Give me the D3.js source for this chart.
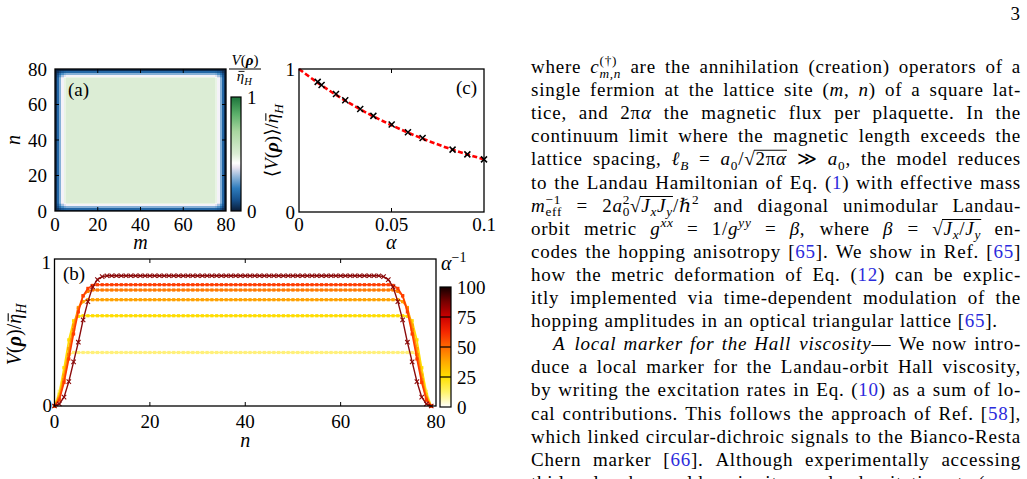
<!DOCTYPE html>
<html><head><meta charset="utf-8">
<script src="https://cdn.jsdelivr.net/npm/d3@7"></script>
<style>
html,body{margin:0;padding:0;background:#fff;}
svg text{font-family:"Liberation Serif","DejaVu Serif",serif;}
</style></head><body>
<svg id="fig" width="1027" height="479"></svg>
<script>
// ================= DATA =================
// Panel (a): local marker map on an 80x80 lattice
const heatTicks = [0, 20, 40, 60, 80];
const heatSites = 80;
const heatEdgeProfile = [0.03, 0.15, 0.29, 0.40, 0.47]; // value vs. distance from edge
const heatInterior = 0.5;
const heatCbarTicks = [0, 1];
const heatColorStops = [0, 0.1, 0.2, 0.3, 0.38, 0.42, 0.5, 0.7, 0.85, 1];
const heatColors = ["#0a1d38", "#17528e", "#2e7cbd", "#90b6da", "#e8e4f1", "#ffffff", "#dcedd5", "#a8d69f", "#5bb06a", "#1c733a"];

// Panel (b): cuts along n for several alpha^-1
const bInvAlpha = [10, 20, 30, 40, 50, 100];
const bPlateau = [0.364, 0.614, 0.723, 0.789, 0.825, 0.886];
const bEdge = [
  [0, 0.10, 0.26, 0.35],
  [0, 0.08, 0.26, 0.45, 0.58, 0.61],
  [0, 0.06, 0.21, 0.39, 0.55, 0.67, 0.71],
  [0, 0.05, 0.18, 0.35, 0.52, 0.66, 0.75, 0.78],
  [0, 0.04, 0.16, 0.32, 0.49, 0.64, 0.75, 0.80, 0.82],
  [0, 0.014, 0.06, 0.166, 0.30, 0.434, 0.586, 0.71, 0.81, 0.86, 0.88]
];
const bSites = 80;
const bColors = ["#fff07a", "#ffdd00", "#ffa200", "#ff7a00", "#ff3c00", "#8b0a0a"];
const bXTicks = [0, 20, 40, 60, 80];
const bYTicks = [0, 1];
const bCbarTicks = [0, 25, 50, 75, 100];
const bCbarStops = [0, 12.5, 25, 37.5, 50, 62.5, 75, 87.5, 100];
const bCbarColors = ["#ffffff", "#fff36a", "#ffe000", "#ffaa00", "#ff6a00", "#f52800", "#cc0000", "#7a0000", "#120000"];

// Panel (c): average marker vs alpha
const cAlpha = [0.0101, 0.0122, 0.02, 0.025, 0.0331, 0.0402, 0.0501, 0.0589, 0.0668, 0.083, 0.091, 0.1];
const cMarker = [0.91, 0.888, 0.825, 0.782, 0.72, 0.672, 0.612, 0.558, 0.518, 0.436, 0.403, 0.368];
const cFitAlpha = [0, 0.01, 0.02, 0.03, 0.04, 0.05, 0.06, 0.07, 0.08, 0.09, 0.1];
const cFitValue = [1, 0.905, 0.819, 0.741, 0.670, 0.607, 0.549, 0.497, 0.449, 0.407, 0.368];
const cXTicks = [0, 0.05, 0.1];
const cXTickLabels = ["0", "0.05", "0.1"];
const cYTicks = [0, 1];

// Body text (right column)
const bodyLines = [
  "where $c$^{(†)}|_{$m,n$} are the annihilation (creation) operators of a",
  "single fermion at the lattice site ($m$, $n$) of a square lat-",
  "tice, and 2π$α$ the magnetic flux per plaquette.  In the",
  "continuum limit where the magnetic length exceeds the",
  "lattice spacing, $ℓ$_{$B$} = $a$_{0}/√&{2π$α$} ≫ $a$_{0}, the model reduces",
  "to the Landau Hamiltonian of Eq. (#1#) with effective mass",
  "$m$^{−1}|_{eff} = 2$a$^{2}|_{0}√&{$J$_{$x$}$J$_{$y$}}/ℏ^{2} and diagonal unimodular Landau-",
  "orbit metric $g$^{$xx$} = 1/$g$^{$yy$} = $β$, where $β$ = √&{$J$_{$x$}/$J$_{$y$}} en-",
  "codes the hopping anisotropy [#65#]. We show in Ref. [#65#]",
  "how the metric deformation of Eq. (#12#) can be explic-",
  "itly implemented via time-dependent modulation of the",
  "hopping amplitudes in an optical triangular lattice [#65#].",
  "$A$ $local$ $marker$ $for$ $the$ $Hall$ $viscosity$— We now intro-",
  "duce a local marker for the Landau-orbit Hall viscosity,",
  "by writing the excitation rates in Eq. (#10#) as a sum of lo-",
  "cal contributions. This follows the approach of Ref. [#58#],",
  "which linked circular-dichroic signals to the Bianco-Resta",
  "Chern marker [#66#].  Although experimentally accessing",
  "this local marker would require site-resolved excitation rates (e.g.,"
];
const bodyIndentLines = [12];
const bodyRaggedLines = [11];
const pageNumber = "3";

// ================= HELPERS =================
const svg = d3.select('#fig');
let overCounter = 0;
function parseRich(str){
  const runs=[]; const stack=[]; let st={level:0,over:null};
  let it=false, blue=false, bold=false, buf='', back=false;
  const push=()=>{ if(buf){ runs.push({t:buf,it,blue,bold,level:st.level,over:st.over,back}); back=false; buf=''; } };
  for(let i=0;i<str.length;i++){
    const ch=str[i], nx=str[i+1];
    if(ch==='$'){push(); it=!it;}
    else if(ch==='#'){push(); blue=!blue;}
    else if(ch==='*'){push(); bold=!bold;}
    else if(ch==='|'){push(); back=true;}
    else if((ch==='^'||ch==='_'||ch==='&'||ch==='~')&&nx==='{'){
      push(); stack.push(st);
      let over=st.over;
      if(ch==='&') over={id:++overCounter,kind:'sqrt'};
      if(ch==='~') over={id:++overCounter,kind:'bar'};
      st={level: ch==='^'?1:(ch==='_'?-1:st.level), over}; i++;
    }
    else if(ch==='}'){push(); st=stack.pop()||{level:0,over:null};}
    else buf+=ch;
  }
  push(); return runs;
}
function renderRich(parent, str, size){
  const t=parent.append('text').attr('x',0).attr('y',0).style('font-size',size+'px');
  const runs=parseRich(str); let cur=0, prev=null; const overs={};
  runs.forEach(r=>{
    const off = r.level===1? -0.4*size : (r.level===-1? 0.25*size : 0);
    const fs = r.level? 0.7*size : size;
    const ts=t.append('tspan').text(r.t).attr('dy',(off-cur).toFixed(2))
      .style('font-size',fs+'px').style('font-style',r.it?'italic':'normal')
      .style('font-weight',r.bold?'bold':'normal').attr('fill',r.blue?'#2b2bdc':'#000');
    if(r.back && prev) ts.attr('dx', (-prev.node().getComputedTextLength()).toFixed(2));
    if(r.over){ (overs[r.over.id]=overs[r.over.id]||{kind:r.over.kind,nodes:[]}).nodes.push(ts.node()); }
    cur=off; prev=ts;
  });
  Object.values(overs).forEach(o=>{
    let x0=Infinity,x1=-Infinity;
    o.nodes.forEach(n=>{const b=n.getBBox(); x0=Math.min(x0,b.x); x1=Math.max(x1,b.x+b.width);});
    const yy = o.kind==='sqrt'? -0.80*size : -0.64*size;
    if(o.kind==='sqrt') x0-=1.5; else {x0+=0.12*size; x1+=0.02*size;}
    parent.append('line').attr('x1',x0).attr('x2',x1).attr('y1',yy).attr('y2',yy)
      .attr('stroke','#000').attr('stroke-width',Math.max(0.9,0.055*size));
  });
  return t;
}
function label(str,x,y,size,anchor,rotate){
  const g=svg.append('g').attr('transform',`translate(${x},${y}) rotate(${rotate||0})`);
  const inner=g.append('g');
  const t=renderRich(inner,str,size);
  const w=t.node().getBBox().width;
  if(anchor==='middle') inner.attr('transform',`translate(${-w/2},0)`);
  else if(anchor==='end') inner.attr('transform',`translate(${-w},0)`);
  return g;
}
const TICK=19;

// ================= PANEL (a) =================
const xa=d3.scaleLinear().domain([0,80]).range([55,226]);
const ya=d3.scaleLinear().domain([0,80]).range([211,69]);
const heatColor=d3.scaleLinear().domain(heatColorStops).range(heatColors).clamp(true);
const cells=[];
for(let m=0;m<heatSites;m++){for(let n=0;n<heatSites;n++){
  const dm=Math.min(m,heatSites-1-m), dn=Math.min(n,heatSites-1-n);
  const fm=dm<heatEdgeProfile.length?heatEdgeProfile[dm]/heatInterior:1;
  const fn=dn<heatEdgeProfile.length?heatEdgeProfile[dn]/heatInterior:1;
  cells.push({m,n,v:heatInterior*fm*fn});
}}
const gA=svg.append('g');
gA.selectAll('rect.cell').data(cells).join('rect').attr('class','cell')
  .attr('x',d=>xa(d.m)).attr('y',d=>ya(d.n+1))
  .attr('width',xa(1)-xa(0)+0.4).attr('height',ya(0)-ya(1)+0.4)
  .attr('fill',d=>heatColor(d.v)).attr('shape-rendering','crispEdges');
gA.append('rect').attr('x',xa(0)).attr('y',ya(80)).attr('width',xa(80)-xa(0)).attr('height',ya(0)-ya(80))
  .attr('fill','none').attr('stroke','#000').attr('stroke-width',1.3);
heatTicks.slice(1,-1).forEach(t=>{
  gA.append('line').attr('x1',xa(t)).attr('x2',xa(t)).attr('y1',ya(0)).attr('y2',ya(0)-4).attr('stroke','#000');
  gA.append('line').attr('x1',xa(t)).attr('x2',xa(t)).attr('y1',ya(80)).attr('y2',ya(80)+4).attr('stroke','#000');
  gA.append('line').attr('y1',ya(t)).attr('y2',ya(t)).attr('x1',xa(0)).attr('x2',xa(0)+4).attr('stroke','#000');
  gA.append('line').attr('y1',ya(t)).attr('y2',ya(t)).attr('x1',xa(80)).attr('x2',xa(80)-4).attr('stroke','#000');
});
heatTicks.forEach(t=>{
  label(String(t),xa(t),231,TICK,'middle');
  label(String(t),47,ya(t)+6.5,TICK,'end');
});
label("$m$",xa(40),249,20,'middle');
label("$n$",20,ya(40),20,'middle',-90);
label("(a)",68,96,TICK,'start');
// colorbar (a)
const yca=d3.scaleLinear().domain([0,1]).range([211,97]);
const defs=svg.append('defs');
const gradA=defs.append('linearGradient').attr('id','gradA').attr('x1',0).attr('x2',0).attr('y1',1).attr('y2',0);
heatColorStops.forEach((s,i)=>gradA.append('stop').attr('offset',s).attr('stop-color',heatColors[i]));
svg.append('rect').attr('x',231).attr('y',yca(1)).attr('width',10).attr('height',yca(0)-yca(1))
  .attr('fill','url(#gradA)').attr('stroke','#000').attr('stroke-width',1.2);
heatCbarTicks.forEach(t=>label(String(t),247,yca(t)+7,TICK,'start'));
label("$V$(*$ρ$*)",245,65,15,'middle');
svg.append('line').attr('x1',229).attr('x2',261).attr('y1',69).attr('y2',69).attr('stroke','#000').attr('stroke-width',1);
label("~{$η$}_{$H$}",245,81,15,'middle');

// ================= PANEL (c) =================
const xc=d3.scaleLinear().domain([0,0.1]).range([299,484]);
const yc=d3.scaleLinear().domain([0,1]).range([212,69]);
const gC=svg.append('g');
gC.append('path').datum(cFitAlpha.map((a,i)=>[a,cFitValue[i]]))
  .attr('d',d3.line().x(d=>xc(d[0])).y(d=>yc(d[1])).curve(d3.curveMonotoneX))
  .attr('fill','none').attr('stroke','#f00').attr('stroke-width',2.6).attr('stroke-dasharray','5,2.5');
cAlpha.forEach((a,i)=>{
  const x=xc(a), y=yc(cMarker[i]), s=3;
  gC.append('path').attr('d',`M${x-s},${y-s}L${x+s},${y+s}M${x-s},${y+s}L${x+s},${y-s}`)
    .attr('stroke','#000').attr('stroke-width',1.5);
});
gC.append('rect').attr('x',xc(0)).attr('y',yc(1)).attr('width',xc(0.1)-xc(0)).attr('height',yc(0)-yc(1))
  .attr('fill','none').attr('stroke','#000').attr('stroke-width',1.3);
gC.append('line').attr('x1',xc(0.05)).attr('x2',xc(0.05)).attr('y1',yc(0)).attr('y2',yc(0)-4).attr('stroke','#000');
gC.append('line').attr('x1',xc(0.05)).attr('x2',xc(0.05)).attr('y1',yc(1)).attr('y2',yc(1)+4).attr('stroke','#000');
cXTicks.forEach((t,i)=>label(cXTickLabels[i],xc(t),231,TICK,'middle'));
cYTicks.forEach(t=>label(String(t),295,yc(t)+7,TICK,'end'));
label("$α$",xc(0.05),249,20,'middle');
label("⟨$V$(*$ρ$*)⟩/~{$η$}_{$H$}",278,140,19,'middle',-90);
label("(c)",456,94,TICK,'start');

// ================= PANEL (b) =================
const xb=d3.scaleLinear().domain([0,80]).range([54.5,436]);
const yb=d3.scaleLinear().domain([0,1]).range([406,259]);
const gB=svg.append('g');
const bSeries=bEdge.map((edge,k)=>d3.range(bSites).map(n=>{
  const d=Math.min(n,bSites-1-n); return d<edge.length?edge[d]:bPlateau[k];
}));
bSeries.forEach((vals,k)=>{
  const pts=vals.map((v,n)=>[xb(n),yb(v)]);
  const dark=(k===bSeries.length-1);
  gB.append('path').attr('d',d3.line()(pts)).attr('fill','none')
    .attr('stroke',bColors[k]).attr('stroke-width',dark?1.4:1.6);
  pts.forEach(p=>{
    if(dark){
      const s=2.2;
      gB.append('path').attr('d',`M${p[0]-s},${p[1]-s}L${p[0]+s},${p[1]+s}M${p[0]-s},${p[1]+s}L${p[0]+s},${p[1]-s}`)
        .attr('stroke',bColors[k]).attr('stroke-width',1.1);
    } else {
      gB.append('rect').attr('x',p[0]-1.6).attr('y',p[1]-1.6).attr('width',3.2).attr('height',3.2).attr('fill',bColors[k]);
    }
  });
});
gB.append('rect').attr('x',xb(0)).attr('y',yb(1)).attr('width',xb(80)-xb(0)).attr('height',yb(0)-yb(1))
  .attr('fill','none').attr('stroke','#000').attr('stroke-width',1.3);
bXTicks.slice(1,-1).forEach(t=>{
  gB.append('line').attr('x1',xb(t)).attr('x2',xb(t)).attr('y1',yb(0)).attr('y2',yb(0)-4).attr('stroke','#000');
  gB.append('line').attr('x1',xb(t)).attr('x2',xb(t)).attr('y1',yb(1)).attr('y2',yb(1)+4).attr('stroke','#000');
});
bXTicks.forEach(t=>label(String(t),xb(t),428,TICK,'middle'));
label("1",51,269,TICK,'end');
label("0",52,412,TICK,'end');
label("$n$",xb(40),447,20,'middle');
label("$V$(*$ρ$*)/~{$η$}_{$H$}",21,334,20,'middle',-90);
label("(b)",63,280,TICK,'start');
// colorbar (b)
const ycb=d3.scaleLinear().domain([0,100]).range([407,287]);
const gradB=defs.append('linearGradient').attr('id','gradB').attr('x1',0).attr('x2',0).attr('y1',1).attr('y2',0);
bCbarStops.forEach((s,i)=>gradB.append('stop').attr('offset',s/100).attr('stop-color',bCbarColors[i]));
svg.append('rect').attr('x',440).attr('y',ycb(100)).attr('width',11).attr('height',ycb(0)-ycb(100))
  .attr('fill','url(#gradB)').attr('stroke','#000').attr('stroke-width',1.2);
bCbarTicks.slice(1,-1).forEach(t=>svg.append('line').attr('x1',440).attr('x2',451).attr('y1',ycb(t)).attr('y2',ycb(t)).attr('stroke','#000').attr('stroke-width',1.2));
bCbarTicks.forEach(t=>label(String(t),457,ycb(t)+6.5,TICK,'start'));
label("$α$^{−1}",441,270,20,'start');

// ================= BODY TEXT =================
const FS=19, X0=531, X1=1021, Y0=73, LH=23.1;
bodyLines.forEach((s,i)=>{
  const y=Y0+i*LH;
  const indent=bodyIndentLines.includes(i)?22:0;
  const ragged=bodyRaggedLines.includes(i);
  const words=s.split(/ +/);
  const g=svg.append('g').style('letter-spacing','0.75px');
  const items=words.map(w=>{const wg=g.append('g'); const t=renderRich(wg,w,FS); return {wg,t};});
  const widths=items.map(d=>d.t.node().getBBox().width);
  const x0=X0+indent;
  const sum=d3.sum(widths);
  const gap=ragged?FS*0.32:(X1-x0-sum)/(words.length-1);
  let x=x0; items.forEach((d,j)=>{d.wg.attr('transform',`translate(${x.toFixed(2)},${y.toFixed(2)})`); x+=widths[j]+gap;});
});
label(pageNumber,1020,20,FS,'end');
</script></body></html>
